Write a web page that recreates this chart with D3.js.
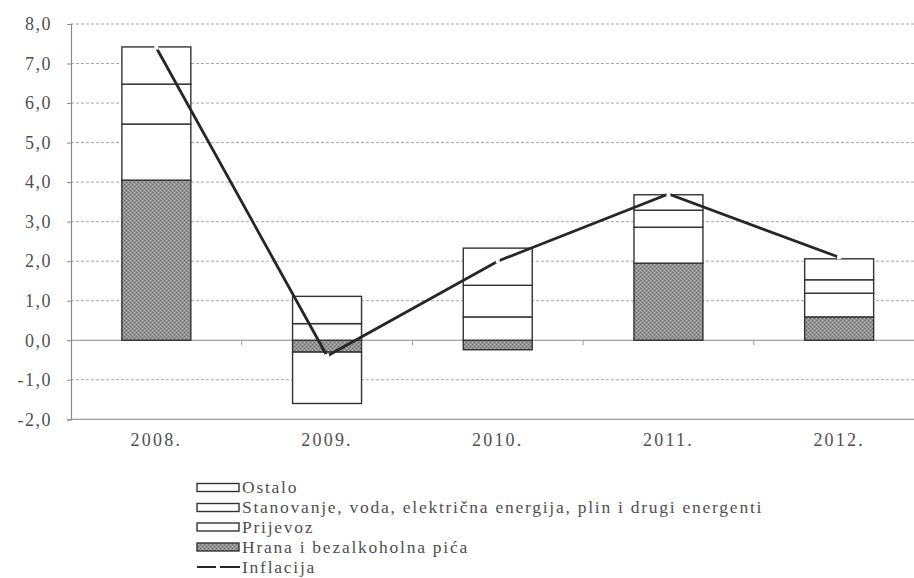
<!DOCTYPE html>
<html><head><meta charset="utf-8">
<script src="https://cdn.jsdelivr.net/npm/d3@7"></script>
<style>
html,body{margin:0;padding:0;background:#fff;}
svg{display:block;}
text{font-family:"Liberation Serif","Times New Roman",Times,"DejaVu Serif","Noto Serif",serif;fill:#4f4f4f;}
</style></head>
<body>
<svg id="c" width="914" height="578"></svg>
<script>
const years = ["2008.","2009.","2010.","2011.","2012."];
const hrana = [4.05, -0.30, -0.24, 1.95, 0.59];
const prijevoz = [1.42, -1.30, 0.59, 0.91, 0.60];
const stanovanje = [1.01, 0.42, 0.80, 0.43, 0.34];
const ostalo = [0.94, 0.69, 0.94, 0.39, 0.53];
const inflacija = [7.4, -0.4, 2.0, 3.7, 2.1];
const yTicks = [-2,-1,0,1,2,3,4,5,6,7,8];
const yTickLabels = ["-2,0","-1,0","0,0","1,0","2,0","3,0","4,0","5,0","6,0","7,0","8,0"];
const legendItems = ["Ostalo","Stanovanje, voda, električna energija, plin i drugi energenti","Prijevoz","Hrana i bezalkoholna pića","Inflacija"];

const FONT = '"Liberation Serif","Times New Roman",Times,"DejaVu Serif","Noto Serif",serif';
const svg = d3.select("#c");
const defs = svg.append("defs");
const pat = defs.append("pattern").attr("id","dots").attr("width",4).attr("height",4).attr("patternUnits","userSpaceOnUse");
pat.append("rect").attr("width",4).attr("height",4).attr("fill","#939393");
pat.append("rect").attr("x",0).attr("y",0).attr("width",1).attr("height",1).attr("fill","#6a6a6a");
pat.append("rect").attr("x",2).attr("y",2).attr("width",1).attr("height",1).attr("fill","#6a6a6a");
pat.append("rect").attr("x",2).attr("y",0).attr("width",1).attr("height",1).attr("fill","#b4b4b4");
pat.append("rect").attr("x",0).attr("y",2).attr("width",1).attr("height",1).attr("fill","#b4b4b4");

const x = d3.scaleBand().domain(years).range([71, 924.5]).paddingInner(0.596).paddingOuter(0.298);
const y = d3.scaleLinear().domain([-2, 8]).range([419.3, 24]);

const grid = svg.append("g");
yTicks.forEach(t => {
  if (t === 0 || t === -2) return;
  grid.append("line").attr("x1",71).attr("x2",914).attr("y1",y(t)).attr("y2",y(t))
    .attr("stroke","#a8a8a8").attr("stroke-width",1).attr("stroke-dasharray","3,2");
});
svg.append("line").attr("x1",71).attr("x2",914).attr("y1",y(-2)).attr("y2",y(-2)).attr("stroke","#9a9a9a").attr("stroke-width",1.2);
const yAxis = d3.axisLeft(y).tickValues(yTicks).tickSize(4).tickFormat((d,i)=>yTickLabels[i]);
const ya = svg.append("g").attr("transform","translate(71,0)").call(yAxis);
ya.select(".domain").attr("stroke","#8a8a8a").attr("stroke-width",1.2);
ya.selectAll(".tick line").attr("stroke","#8a8a8a");
ya.selectAll(".tick text").attr("x",-19).attr("font-size",18).attr("letter-spacing",1.5)
  .attr("font-family",FONT).attr("fill","#4f4f4f");

svg.append("line").attr("x1",71).attr("x2",914).attr("y1",y(0)).attr("y2",y(0)).attr("stroke","#8a8a8a").attr("stroke-width",1.2);
years.slice(1).forEach(yr => {
  const b = x(yr) - (x.step()-x.bandwidth())/2;
  svg.append("line").attr("x1",b).attr("x2",b).attr("y1",y(0)).attr("y2",y(0)+5).attr("stroke","#9a9a9a").attr("stroke-width",1);
});

const table = years.map((yr,i)=>({year:yr, s0:hrana[i], s1:prijevoz[i], s2:stanovanje[i], s3:ostalo[i]}));
const stack = d3.stack().keys(["s0","s1","s2","s3"]).offset(d3.stackOffsetDiverging);
const layers = stack(table);
const fills = ["url(#dots)","#ffffff","#ffffff","#ffffff"];
layers.forEach((layer, li) => {
  svg.append("g").selectAll("rect").data(layer).join("rect")
    .attr("x", d => x(d.data.year))
    .attr("width", x.bandwidth())
    .attr("y", d => y(Math.max(d[0], d[1])))
    .attr("height", d => Math.abs(y(d[0]) - y(d[1])))
    .attr("fill", fills[li])
    .attr("stroke", "#333")
    .attr("stroke-width", 1.4);
});

svg.append("g").selectAll("text").data(years).join("text")
  .attr("x", d => x(d) + x.bandwidth()/2)
  .attr("y", 446)
  .attr("text-anchor","middle")
  .attr("font-family",FONT)
  .attr("font-size",18).attr("letter-spacing",2.2)
  .text(d => d);

const line = d3.line().x((d,i)=>x(years[i])+x.bandwidth()/2).y(d=>y(d));
svg.append("path").datum(inflacija).attr("d", line).attr("fill","none").attr("stroke","#262626").attr("stroke-width",2.8).attr("stroke-linejoin","miter");
svg.append("g").selectAll("rect").data(inflacija).join("rect")
  .attr("x",(d,i)=>x(years[i])+x.bandwidth()/2-2)
  .attr("y",d=>y(d)-2)
  .attr("width",4).attr("height",4).attr("fill","#fff");

const lg = svg.append("g");
const rowY = [487.5, 507.5, 527, 547, 567];
legendItems.forEach((name, i) => {
  const cy = rowY[i];
  if (i < 4) {
    lg.append("rect").attr("x",197).attr("y",cy-4).attr("width",42).attr("height",8)
      .attr("fill", i===3 ? "url(#dots)" : "#fff").attr("stroke","#333").attr("stroke-width",1.4);
  } else {
    lg.append("line").attr("x1",197).attr("x2",240).attr("y1",cy).attr("y2",cy).attr("stroke","#262626").attr("stroke-width",2);
    lg.append("rect").attr("x",216).attr("y",cy-1.5).attr("width",4).attr("height",3).attr("fill","#fff");
  }
  lg.append("text").attr("x",242).attr("y",cy+5.5).attr("font-family",FONT).attr("font-size",17.5).attr("letter-spacing",1.75).text(name);
});
</script>
</body></html>
